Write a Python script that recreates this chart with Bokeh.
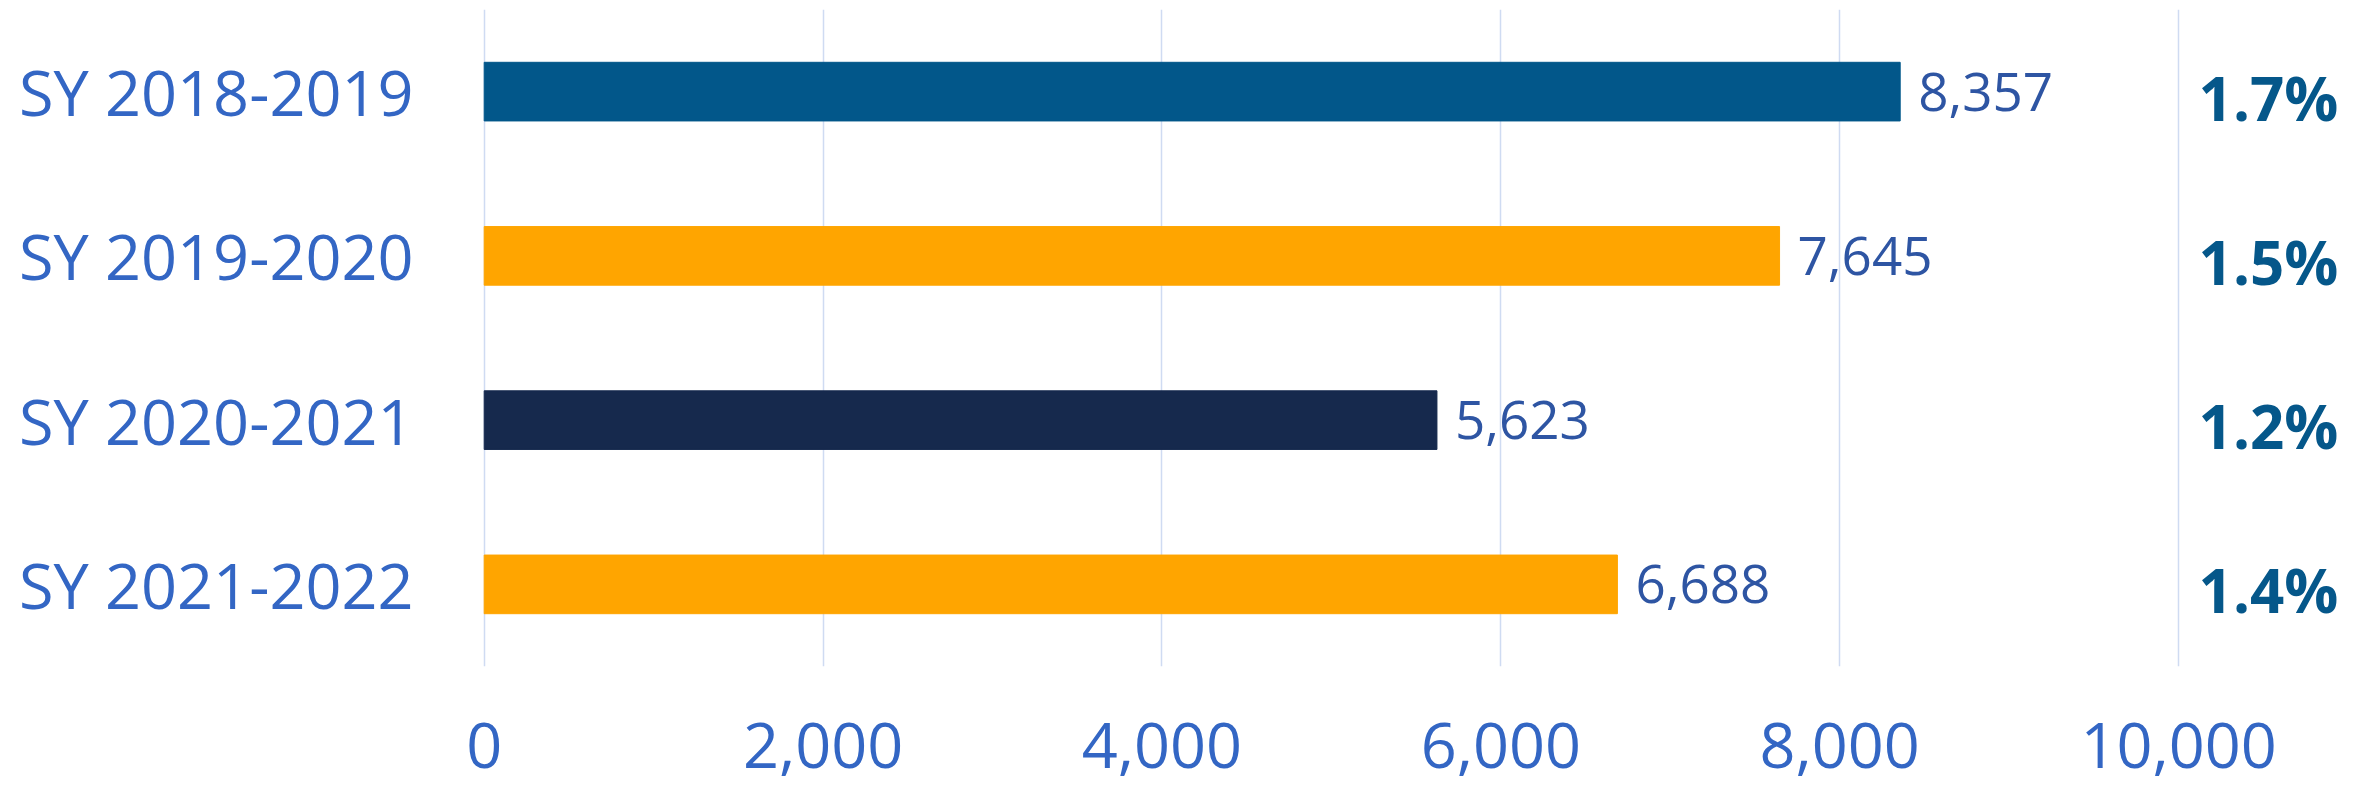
from bokeh.plotting import figure
from bokeh.models import (ColumnDataSource, FactorRange, Range1d, FixedTicker,
                          NumeralTickFormatter)
from bokeh.core.properties import value
from bokeh.embed import file_html
from bokeh.resources import INLINE

categories = ["SY 2018-2019", "SY 2019-2020", "SY 2020-2021", "SY 2021-2022"]
counts = [8357, 7645, 5623, 6688]
percents = ["1.7%", "1.5%", "1.2%", "1.4%"]
bar_colors = ["#02578A", "#FFA500", "#16294D", "#FFA500"]
x_ticks = [0, 2000, 4000, 6000, 8000, 10000]

labels = [f"{v:,}" for v in counts]
src = ColumnDataSource(dict(cat=categories, val=counts, color=bar_colors, label=labels,
                            pct=percents, pct_x=[x_ticks[-1]] * len(categories)))

p = figure(width=2356, height=790, output_backend="svg", toolbar_location=None,
           y_range=FactorRange(factors=list(reversed(categories)), range_padding=0),
           x_range=Range1d(-10, 11050),
           min_border_left=482, min_border_right=0, min_border_top=9, min_border_bottom=124)
p.outline_line_color = None
p.background_fill_color = "white"
p.border_fill_color = "white"

p.xgrid.grid_line_color = "#CFDBF2"
p.xgrid.grid_line_width = 1.5
p.xgrid.ticker = FixedTicker(ticks=x_ticks)
p.ygrid.grid_line_color = None

p.hbar(y="cat", right="val", left=0, height=0.357, color="color", source=src)
p.text(x="val", y="cat", text="label", source=src, x_offset=18,
       text_baseline="middle", text_align="left",
       text_font=value("Open Sans"), text_font_size="53px", text_color="#2E55A3")
p.text(x="pct_x", y="cat", text="pct", source=src, x_offset=20, y_offset=6,
       text_baseline="middle", text_align="left",
       text_font=value("Open Sans"), text_font_style="bold",
       text_font_size="60px", text_color="#05578A")

# x axis
xa = p.xaxis[0]
xa.ticker = FixedTicker(ticks=x_ticks)
xa.formatter = NumeralTickFormatter(format="0,0")
xa.axis_line_color = None
xa.major_tick_line_color = None
xa.minor_tick_line_color = None
xa.major_label_text_font = "Open Sans"
xa.major_label_text_font_size = "63px"
xa.major_label_text_color = "#3366C4"
xa.major_label_text_line_height = 0.5
xa.major_label_standoff = 50

# y axis
ya = p.yaxis[0]
ya.axis_line_color = None
ya.major_tick_line_color = None
ya.minor_tick_line_color = None
ya.major_label_text_font = "Open Sans"
ya.major_label_text_font_size = "63px"
ya.major_label_text_color = "#3366C4"
ya.major_label_standoff = 63

open("out.html", "w").write(file_html(p, INLINE))
